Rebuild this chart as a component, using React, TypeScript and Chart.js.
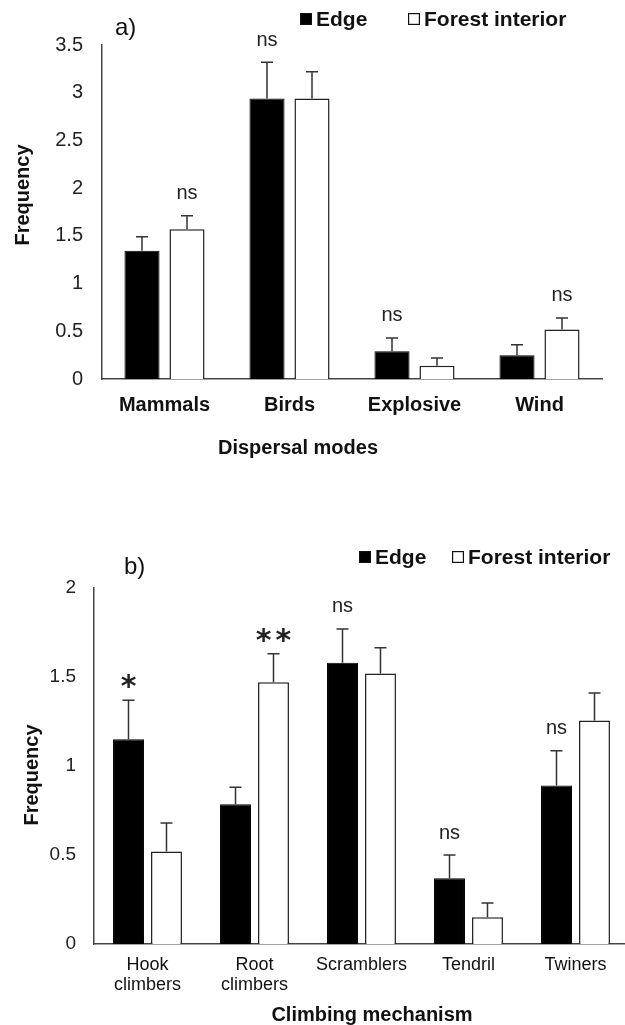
import React, { useEffect, useRef } from "react";
import { Chart, registerables } from "chart.js";

Chart.register(...registerables);

// ---------- Panel a) Dispersal modes ----------
const dispersalCategories = ["Mammals", "Birds", "Explosive", "Wind"];
const dispersalEdge = [1.345, 2.94, 0.29, 0.25];
const dispersalEdgeErr = [0.145, 0.38, 0.14, 0.11];
const dispersalInterior = [1.57, 2.94, 0.14, 0.52];
const dispersalInteriorErr = [0.14, 0.28, 0.08, 0.12];
const dispersalTicks = [0, 0.5, 1, 1.5, 2, 2.5, 3, 3.5];
const dispersalMarks = ["ns", "ns", "ns", "ns"];
const dispersalMarkSeries = [1, 0, 0, 1];

// ---------- Panel b) Climbing mechanism ----------
const climbingCategories = [["Hook", "climbers"], ["Root", "climbers"], "Scramblers", "Tendril", "Twiners"];
const climbingEdge = [1.15, 0.785, 1.58, 0.37, 0.89];
const climbingEdgeErr = [0.22, 0.095, 0.19, 0.13, 0.195];
const climbingInterior = [0.52, 1.47, 1.52, 0.15, 1.255];
const climbingInteriorErr = [0.16, 0.16, 0.145, 0.08, 0.155];
const climbingTicks = [0, 0.5, 1, 1.5, 2];
const climbingMarks = ["*", "**", "ns", "ns", "ns"];
const climbingMarkSeries = [0, 1, 0, 0, 0];

const seriesNames = ["Edge", "Forest interior"];

const FONT = '"Liberation Sans", Arial, sans-serif';

type Overlay = {
  errors: number[][];
  marks: string[];
  markSeries: number[];
  legendY: number;
  legendXs: number[];
  panelLabel: string;
  panelX: number;
  panelY: number;
  yTitle: string;
  yTitleX: number;
  yTitleY: number;
  xTitle: string;
  xTitleX: number;
  xTitleY: number;
};

function makeOverlay(o: Overlay) {
  return {
    id: "overlay",
    afterDatasetsDraw(chart: any) {
      const ctx = chart.ctx;
      const yScale = chart.scales.y;
      ctx.save();
      ctx.strokeStyle = "#333";
      ctx.lineWidth = 1.5;
      chart.data.datasets.forEach((ds: any, i: number) => {
        const meta = chart.getDatasetMeta(i);
        meta.data.forEach((bar: any, j: number) => {
          const v = ds.data[j];
          const top = yScale.getPixelForValue(v + o.errors[i][j]);
          const base = yScale.getPixelForValue(v);
          ctx.beginPath();
          ctx.moveTo(bar.x, base);
          ctx.lineTo(bar.x, top);
          ctx.moveTo(bar.x - 6, top);
          ctx.lineTo(bar.x + 6, top);
          ctx.stroke();
        });
      });
      // significance marks
      o.marks.forEach((m, j) => {
        const s = o.markSeries[j];
        const bar = chart.getDatasetMeta(s).data[j];
        const v = chart.data.datasets[s].data[j] + o.errors[s][j];
        const yc = yScale.getPixelForValue(v) - 22;
        ctx.fillStyle = "#222";
        ctx.textAlign = "center";
        if (m.includes("*")) {
          ctx.font = 'bold 30px "DejaVu Sans", sans-serif';
          (ctx as any).letterSpacing = "4px";
          ctx.textBaseline = "alphabetic";
          const w = ctx.measureText(m).width;
          ctx.textAlign = "left";
          ctx.fillText(m, bar.x - (w - 4) / 2, yc + 18);
          (ctx as any).letterSpacing = "0px";
        } else {
          ctx.font = `20px ${FONT}`;
          ctx.textBaseline = "middle";
          ctx.fillText(m, bar.x, yc);
        }
      });
      ctx.restore();
    },
    afterDraw(chart: any) {
      const ctx = chart.ctx;
      ctx.save();
      // legend
      chart.data.datasets.forEach((ds: any, i: number) => {
        const x = o.legendXs[i];
        const y = o.legendY;
        ctx.fillStyle = ds.backgroundColor;
        ctx.fillRect(x, y - 6, 12, 12);
        ctx.strokeStyle = "#111";
        ctx.lineWidth = 1.2;
        ctx.strokeRect(x + 0.6, y - 5.4, 10.8, 10.8);
        ctx.fillStyle = "#111";
        ctx.font = `bold 21px ${FONT}`;
        ctx.textAlign = "left";
        ctx.textBaseline = "middle";
        ctx.fillText(ds.label, x + 16, y + 1);
      });
      // panel label
      ctx.fillStyle = "#111";
      ctx.font = `24px ${FONT}`;
      ctx.textAlign = "left";
      ctx.textBaseline = "middle";
      ctx.fillText(o.panelLabel, o.panelX, o.panelY);
      // axis titles
      ctx.font = `bold 20px ${FONT}`;
      ctx.textAlign = "center";
      ctx.textBaseline = "middle";
      ctx.fillStyle = "#111";
      ctx.fillText(o.xTitle, o.xTitleX, o.xTitleY);
      ctx.translate(o.yTitleX, o.yTitleY);
      ctx.rotate(-Math.PI / 2);
      ctx.fillText(o.yTitle, 0, 0);
      ctx.restore();
    },
  };
}

type PanelProps = {
  width: number;
  height: number;
  categories: any[];
  edge: number[];
  interior: number[];
  ticks: number[];
  yMax: number;
  padding: { top: number; right: number; left: number; bottom: number };
  yWidth: number;
  xHeight: number;
  tickFont: number;
  tickPad: number;
  xFont: any;
  xPad: number;
  catPct: number;
  barPct: number;
  overlay: Overlay;
};

function Panel(p: PanelProps) {
  const ref = useRef<HTMLCanvasElement>(null);
  useEffect(() => {
    const chart = new Chart(ref.current as HTMLCanvasElement, {
      type: "bar",
      data: {
        labels: p.categories,
        datasets: [
          {
            label: seriesNames[0],
            data: p.edge,
            backgroundColor: "#000",
            borderColor: "#000",
            borderWidth: 1,
            categoryPercentage: p.catPct,
            barPercentage: p.barPct,
          },
          {
            label: seriesNames[1],
            data: p.interior,
            backgroundColor: "#fff",
            borderColor: "#222",
            borderWidth: 1.5,
            categoryPercentage: p.catPct,
            barPercentage: p.barPct,
          },
        ],
      },
      options: {
        responsive: false,
        animation: false,
        devicePixelRatio: 1,
        layout: { padding: p.padding },
        plugins: { legend: { display: false }, tooltip: { enabled: false } },
        scales: {
          x: {
            grid: { display: false, drawTicks: false },
            border: { display: true, color: "#444", width: 1.5 },
            ticks: { color: "#111", font: p.xFont, padding: p.xPad, maxRotation: 0, autoSkip: false },
            afterFit: (s: any) => {
              s.height = p.xHeight;
            },
          },
          y: {
            min: 0,
            max: p.yMax,
            grid: { display: false, drawTicks: false },
            border: { display: true, color: "#444", width: 1.5 },
            afterBuildTicks: (s: any) => {
              s.ticks = p.ticks.map((v) => ({ value: v }));
            },
            ticks: {
              color: "#222",
              font: { family: FONT, size: p.tickFont },
              padding: p.tickPad,
              callback: (v: any) => String(Number(v)),
            },
            afterFit: (s: any) => {
              s.width = p.yWidth;
            },
          },
        },
      },
      plugins: [makeOverlay(p.overlay)],
    } as any);
    return () => chart.destroy();
  }, []);
  return <canvas ref={ref} width={p.width} height={p.height} style={{ display: "block", width: p.width, height: p.height }} />;
}

export default function App() {
  return (
    <div style={{ position: "absolute", left: 0, top: 0, width: 625, height: 1025, overflow: "hidden", background: "#fff" }}>
      <div style={{ position: "absolute", left: 0, top: 0 }}>
        <Panel
          width={625}
          height={500}
          categories={dispersalCategories}
          edge={dispersalEdge}
          interior={dispersalInterior}
          ticks={dispersalTicks}
          yMax={3.5}
          padding={{ top: 45, right: 23, left: 0, bottom: 0 }}
          yWidth={102}
          xHeight={121}
          tickFont={20}
          tickPad={19}
          xFont={{ family: FONT, size: 20, weight: "bold" }}
          xPad={14}
          catPct={0.72}
          barPct={0.78}
          overlay={{
            errors: [dispersalEdgeErr, dispersalInteriorErr],
            marks: dispersalMarks,
            markSeries: dispersalMarkSeries,
            legendY: 19,
            legendXs: [300, 408],
            panelLabel: "a)",
            panelX: 115,
            panelY: 28,
            yTitle: "Frequency",
            yTitleX: 23,
            yTitleY: 195,
            xTitle: "Dispersal modes",
            xTitleX: 298,
            xTitleY: 448,
          }}
        />
      </div>
      <div style={{ position: "absolute", left: 0, top: 500 }}>
        <Panel
          width={640}
          height={525}
          categories={climbingCategories}
          edge={climbingEdge}
          interior={climbingInterior}
          ticks={climbingTicks}
          yMax={2}
          padding={{ top: 88, right: 11, left: 0, bottom: 0 }}
          yWidth={94}
          xHeight={81}
          tickFont={19}
          tickPad={18}
          xFont={{ family: FONT, size: 18, lineHeight: 20 / 18 }}
          xPad={11}
          catPct={0.71}
          barPct={0.815}
          overlay={{
            errors: [climbingEdgeErr, climbingInteriorErr],
            marks: climbingMarks,
            markSeries: climbingMarkSeries,
            legendY: 57,
            legendXs: [359, 452],
            panelLabel: "b)",
            panelX: 124,
            panelY: 67,
            yTitle: "Frequency",
            yTitleX: 32,
            yTitleY: 275,
            xTitle: "Climbing mechanism",
            xTitleX: 372,
            xTitleY: 515,
          }}
        />
      </div>
    </div>
  );
}
